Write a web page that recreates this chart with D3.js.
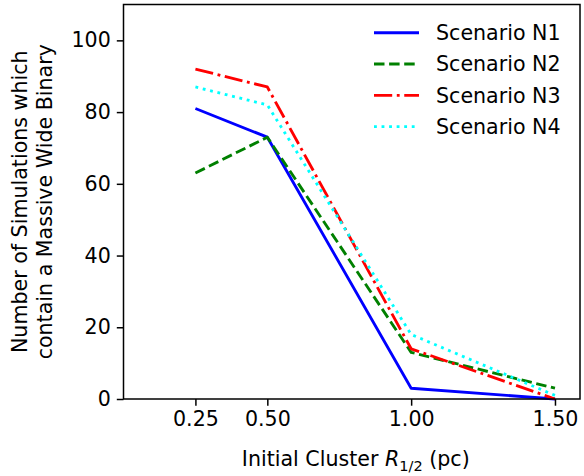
<!DOCTYPE html>
<html>
<head>
<meta charset="utf-8">
<script src="https://cdn.jsdelivr.net/npm/d3@7"></script>
<style>
  body { margin: 0; background: #fff; }
  text { font-family: "DejaVu Sans", sans-serif; fill: #000; }
</style>
</head>
<body>
<div id="chart"></div>
<script>
// cluster half-mass radius (pc)
const radii = [0.25, 0.50, 1.00, 1.50];
const tickLabels = ["0.25", "0.50", "1.00", "1.50"];
const yTicks = [0, 20, 40, 60, 80, 100];

const scenarioN1 = [81, 73, 3, 0];
const scenarioN2 = [63, 73, 13, 3];
const scenarioN3 = [92, 87, 14, 0];
const scenarioN4 = [87, 82, 18, 1];

const seriesNames = ["Scenario N1", "Scenario N2", "Scenario N3", "Scenario N4"];
const seriesColors = ["#0000ff", "#008000", "#ff0000", "#00ffff"];
const seriesDash = ["none", "10.5,4.6", "18.2,4.6,2.85,4.6", "2.85,4.7"];

const series = [scenarioN1, scenarioN2, scenarioN3, scenarioN4].map((vals, i) => ({
    name: seriesNames[i],
    color: seriesColors[i],
    dash: seriesDash[i],
    points: vals.map((v, j) => [radii[j], v])
}));

const width = 584;
const height = 476;
const margin = { top: 4.5, right: 4, bottom: 77, left: 123.5 };
const fs = 20.6;

const svg = d3.select("#chart")
    .append("svg")
    .attr("width", width)
    .attr("height", height);

const x = d3.scaleLinear()
    .domain([0, 1.587])
    .range([margin.left, width - margin.right]);

const y = d3.scaleLinear()
    .domain([0, 110])
    .range([height - margin.bottom, margin.top]);

const line = d3.line()
    .x(d => x(d[0]))
    .y(d => y(d[1]));

const plot = svg.append("g");

plot.selectAll("path.series")
    .data(series)
    .enter()
    .append("path")
    .attr("class", "series")
    .attr("d", d => line(d.points))
    .attr("fill", "none")
    .attr("stroke", d => d.color)
    .attr("stroke-width", 2.85)
    .attr("stroke-dasharray", d => d.dash)
    .attr("stroke-linejoin", "round");

// axes
const xAxis = svg.append("g")
    .attr("transform", `translate(0,${y(0)})`)
    .call(d3.axisBottom(x).tickValues(radii).tickFormat((d, i) => tickLabels[i]).tickSize(6.7).tickPadding(6));

const yAxis = svg.append("g")
    .attr("transform", `translate(${x(0)},0)`)
    .call(d3.axisLeft(y).tickValues(yTicks).tickSize(6.7).tickPadding(6));

[xAxis, yAxis].forEach(a => {
    a.select(".domain").remove();
    a.selectAll(".tick line").attr("stroke", "#000").attr("stroke-width", 1.5);
    a.selectAll(".tick text").style("font-size", fs + "px").style("font-family", "DejaVu Sans");
});

// frame
svg.append("rect")
    .attr("x", x(0))
    .attr("y", y(110))
    .attr("width", x(1.587) - x(0))
    .attr("height", y(0) - y(110))
    .attr("fill", "none")
    .attr("stroke", "#000")
    .attr("stroke-width", 1.5);

// x label
const xl = svg.append("text")
    .attr("x", (x(0) + x(1.587)) / 2 + 4)
    .attr("y", 466)
    .attr("text-anchor", "middle")
    .style("font-size", fs + "px");
xl.append("tspan").text("Initial Cluster ");
xl.append("tspan").attr("font-style", "italic").text("R");
xl.append("tspan").attr("dy", 5).style("font-size", "14.5px").text("1/2");
xl.append("tspan").attr("dy", -5).text(" (pc)");

// y label, two lines
const ylab = svg.append("text")
    .attr("transform", `translate(26.5,${(y(0) + y(110)) / 2}) rotate(-90)`)
    .attr("text-anchor", "middle")
    .style("font-size", fs + "px");
ylab.append("tspan").attr("x", 0).attr("y", 0).text("Number of Simulations which");
ylab.append("tspan").attr("x", 0).attr("y", 25).text("contain a Massive Wide Binary");

// legend
const legend = svg.append("g");
const rows = legend.selectAll("g")
    .data(series)
    .enter()
    .append("g")
    .attr("transform", (d, i) => `translate(374,${32.7 + i * 31.3})`);

rows.append("line")
    .attr("x1", 0)
    .attr("x2", 45)
    .attr("stroke", d => d.color)
    .attr("stroke-width", 2.85)
    .attr("stroke-dasharray", d => d.dash);

rows.append("text")
    .attr("x", 62)
    .attr("dy", "0.35em")
    .style("font-size", fs + "px")
    .text(d => d.name);
</script>
</body>
</html>
